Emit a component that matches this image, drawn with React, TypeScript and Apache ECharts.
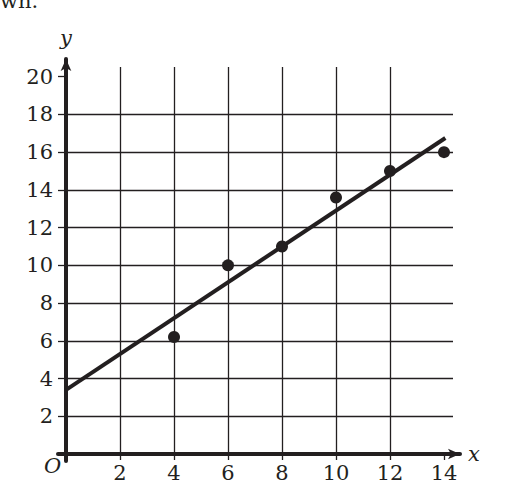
import { useEffect, useRef } from "react";
import * as echarts from "echarts";

// scatter points
const pointX = [4, 6, 8, 10, 12, 14];
const pointY = [6.2, 10, 11, 13.6, 15, 16];

// line of best fit, end points
const fitX = [0, 14.05];
const fitY = [3.4, 16.75];

// tick values
const xTicks = [0, 2, 4, 6, 8, 10, 12, 14];
const yTicks = [0, 2, 4, 6, 8, 10, 12, 14, 16, 18, 20];

const INK = "#231f20";
const FONT = "'DejaVu Serif', serif";

// pixel scale of the drawing
const PX_X = 27; // px per x unit
const PX_Y = 18.865; // px per y unit
const OX = 66;
const OY = 454;

export default function App() {
  const ref = useRef<HTMLDivElement | null>(null);

  useEffect(() => {
    if (!ref.current) return;
    const chart = echarts.init(ref.current, undefined, { renderer: "svg" });

    const gridTop = 67;
    const gridRight = 453;
    const axRight = 460;
    const axTop = 59;

    chart.setOption({
      animation: false,
      grid: [
        // gridlines, ticks and labels
        { left: OX, top: gridTop, width: gridRight - OX, height: OY - gridTop },
        // thick axes with arrows
        { left: 58, top: axTop, width: axRight - 58, height: 461 - axTop },
      ],
      xAxis: [
        {
          type: "value",
          gridIndex: 0,
          min: 0,
          max: (gridRight - OX) / PX_X,
          axisLine: { show: false },
          axisTick: {
            show: true,
            length: 6,
            customValues: xTicks,
            lineStyle: { color: INK, width: 1.3 },
          },
          splitLine: {
            show: true,
            showMaxLine: false,
            lineStyle: { color: INK, width: 1.3 },
          },
          axisLabel: {
            margin: 8,
            customValues: xTicks.filter((v) => v !== 0),
            fontFamily: FONT,
            fontSize: 21,
            color: INK,
          },
        },
        {
          type: "value",
          gridIndex: 1,
          min: -8 / PX_X,
          max: (axRight - OX) / PX_X,
          axisLine: {
            show: true,
            onZero: true,
            symbol: ["none", "arrow"],
            symbolSize: [8, 12],
            lineStyle: { color: INK, width: 4 },
          },
          axisTick: { show: false },
          splitLine: { show: false },
          axisLabel: { show: false },
          name: "x",
          nameLocation: "end",
          nameGap: 8,
          nameTextStyle: {
            fontFamily: FONT,
            fontStyle: "italic",
            fontSize: 21,
            color: INK,
            verticalAlign: "middle",
          },
        },
      ],
      yAxis: [
        {
          type: "value",
          gridIndex: 0,
          min: 0,
          max: (OY - gridTop) / PX_Y,
          axisLine: { show: false },
          axisTick: {
            show: true,
            length: 8,
            customValues: yTicks,
            lineStyle: { color: INK, width: 1.3 },
          },
          splitLine: {
            show: true,
            showMaxLine: false,
            lineStyle: { color: INK, width: 1.3 },
          },
          axisLabel: {
            margin: 13,
            customValues: yTicks.filter((v) => v !== 0),
            fontFamily: FONT,
            fontSize: 21,
            color: INK,
          },
        },
        {
          type: "value",
          gridIndex: 1,
          min: -7 / PX_Y,
          max: (OY - axTop) / PX_Y,
          axisLine: {
            show: true,
            onZero: true,
            symbol: ["none", "arrow"],
            symbolSize: [8, 12],
            lineStyle: { color: INK, width: 4 },
          },
          axisTick: { show: false },
          splitLine: { show: false },
          axisLabel: { show: false },
          name: "y",
          nameLocation: "end",
          nameGap: 11,
          nameTextStyle: {
            fontFamily: FONT,
            fontStyle: "italic",
            fontSize: 21,
            color: INK,
            align: "center",
          },
        },
      ],
      graphic: [
        {
          type: "text",
          left: 0,
          top: -10,
          style: { text: "wn.", font: `21px ${FONT}`, fill: INK },
        },
        {
          type: "text",
          left: 44,
          top: 455,
          style: { text: "O", font: `italic 21px ${FONT}`, fill: INK },
        },
      ],
      series: [
        {
          type: "line",
          xAxisIndex: 0,
          yAxisIndex: 0,
          data: fitX.map((x, i) => [x, fitY[i]]),
          symbol: "none",
          lineStyle: { color: INK, width: 4 },
          clip: false,
          z: 3,
        },
        {
          type: "scatter",
          xAxisIndex: 0,
          yAxisIndex: 0,
          data: pointX.map((x, i) => [x, pointY[i]]),
          symbol: "circle",
          symbolSize: 12,
          itemStyle: { color: INK, opacity: 1 },
          clip: false,
          z: 4,
        },
      ],
    });

    return () => chart.dispose();
  }, []);

  return (
    <div
      ref={ref}
      style={{ position: "fixed", left: 0, top: 0, width: 508, height: 500, background: "#fff" }}
    />
  );
}
